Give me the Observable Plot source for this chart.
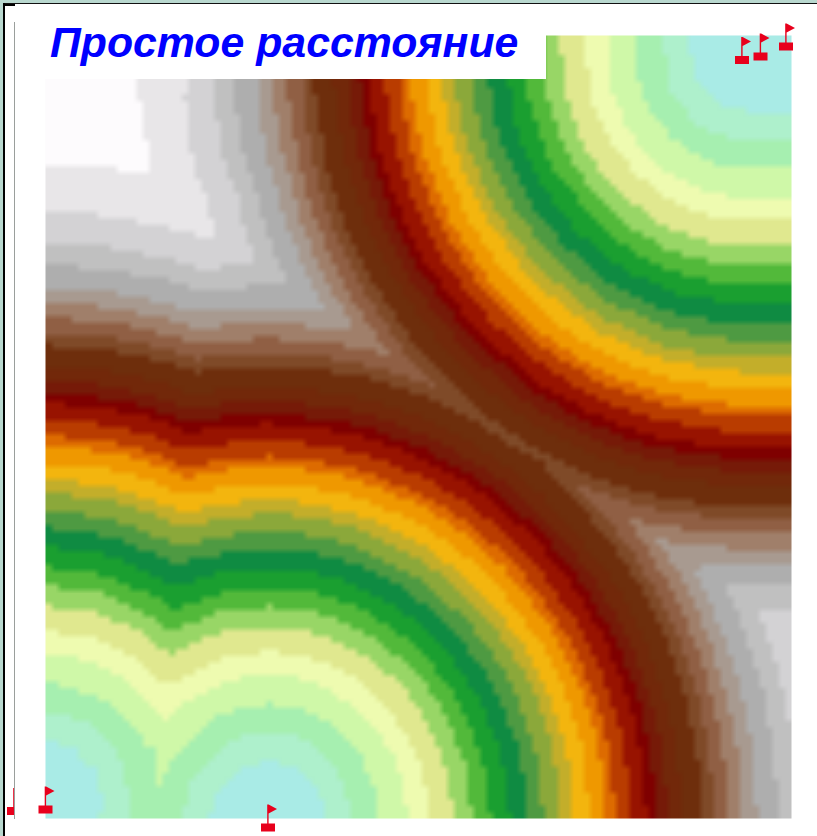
<!DOCTYPE html>
<html>
<head>
<meta charset="utf-8">
<style>
html,body{margin:0;padding:0;background:#fff;}
#page{position:relative;width:817px;height:836px;overflow:hidden;background:#fff;}
#chart{position:absolute;left:0;top:0;}
#chart svg{display:block;background:transparent;overflow:visible;}
#title{position:absolute;left:15px;top:5px;width:531px;height:74px;background:#fff;box-sizing:border-box;padding:12px 0 0 35px;
 font:italic bold 42.8px "Liberation Sans",Arial,sans-serif;color:#0000ff;white-space:nowrap;line-height:50px;}
.ln{position:absolute;}
</style>
<script src="https://cdn.jsdelivr.net/npm/d3@7"></script>
<script src="https://cdn.jsdelivr.net/npm/@observablehq/plot@0.6"></script>
</head>
<body>
<div id="page">
<div id="chart"></div>
<div id="title">Простое расстояние</div>
<div class="ln" style="left:0;top:0;width:817px;height:3px;background:#b9d8cf"></div>
<div class="ln" style="left:0;top:0;width:3px;height:836px;background:#b9d8cf"></div>
<div class="ln" style="left:3px;top:3px;width:814px;height:1px;background:#111"></div>
<div class="ln" style="left:3px;top:3px;width:2px;height:833px;background:#000"></div>
<div class="ln" style="left:5px;top:4px;width:10px;height:2px;background:#000"></div>
<div class="ln" style="left:15px;top:780px;width:20px;height:40px;background:#fff"></div>
<div class="ln" style="left:14px;top:22px;width:1px;height:797px;background:#9a9f9c"></div>
</div>
<script>
// Band limits and colours
const bandLimits = [58,86,112,140,162,186,205,223,242,260,276,293,306,322,338,348,363,379,388,400,414,434,446,460,474,489,510,530,560,605];
const bandColors = ["#a9ebe6","#aef0cc","#a6efb0","#cff8a8","#eefbb0","#e0e88f","#98d666","#52b93a","#1a9f30","#0f8b42","#4e9a42","#8ba83a","#c3ae2a","#f3b50e","#ef9800","#dd6b00","#b93c00","#981300","#7f0000","#761a08","#72280a","#6e2e0c","#7f4a28","#905f44","#a07f6a","#a89a90","#aeaeae","#c0c0c0","#d3d2d4","#e8e6e8","#fdfbfd"];

// Sampled surface values on a coarse grid, estimated from the band positions
const gridX = [45,107,169,231,293,355,417,479,541,603,665,727,791];
const gridY = [35,95,155,215,275,335,395,455,515,575,635,695,755,818];
const gridR = [
 [697,635,573,511,453,391,329,267,205.5,143.7,82.3,24,15],
 [671,636,575,513,455,393.3,331.8,270.4,209.4,149.3,91.6,47,43],
 [614,617,582,521,464,403.6,343.9,285.1,228.1,174.5,128.7,101.8,100],
 [557,560,571,538,479.5,421.4,364.6,309.8,258.3,212.4,176.8,158.2,157.2],
 [500,503.8,515,521,501,445.9,392.6,342.4,296.6,257.6,229.1,215.1,214.3],
 [443,447.2,460,464,464,471,426.5,380.7,340.1,306.8,283.2,272.1,271.4],
 [386,390.6,405,407,406.5,415,432.5,423,387.3,358.4,338.4,329.2,328.6],
 [329,334.4,351,350.5,349.6,359.5,379.5,408,437,411.4,394.1,386.2,385.7],
 [271,278.4,298,294,292.6,304.4,327.7,360.4,400,445,450,443.3,442.9],
 [214,223.1,248,237,235.7,250.3,278.2,316,360.5,409.6,462,500,500],
 [157,168.9,200,180.7,179,197.8,232.1,276.2,326.3,379.8,435.6,492.9,553],
 [100,117.7,155,125.3,122.8,148.8,192.1,243.6,299.1,356.8,415.7,475.4,537.6],
 [43,75.4,116.5,72.5,68.1,108.2,162.7,221.1,281.1,341.8,402.9,464.3,527.8],
 [17,64.3,98,36,26,88,150,212,274,336,398,460,524]
];

// Extra samples along the ridges where the bands turn a corner
const ridgeX = [155.4,158.6,162,165.5,168.9,172.4,175.8,179.2,182.6,186,189.5,192.9,196.4,199.7,203.1,205.7,180,157,130,100,240,280,320,360,400,440,480,520,560,600,640,680,720,760,775,791];
const ridgeY = [818,780,740,700,660,620,580,540,500,460,420,380,340,300,260,230,203,179.4,151.5,120.6,252.9,280.3,307.7,335.1,362.6,390,417.4,444.8,472.2,499.6,527,554.4,581.8,609.2,619.8,631.8];
const ridgeR = [111.7,115.2,130.2,153.6,182,213.6,247,281.6,317.1,353.2,389.7,426.5,463.5,500.7,538,566,584.4,601.5,623.4,649.3,541.6,515,491.6,471.9,456.4,445.5,439.5,438.7,443,452.4,466.5,484.9,507.2,532.8,542.8,554.1];

// Low points of the surface
const lowX = [45,267,746,787];
const lowY = [800,818,50,50];
const lowR = [0,3,0,0];

// Extra samples traced along curved bands: one level, then its positions
const arcLevel = [60,100,120,150,180,200,240,250,300,350,360,400,420,480,540];
const arcX = [
 [319,297,267,237,215,327,207,97,75,45,105,686,694,716,746],
 [132,95,145],
 [383,371,352,327,298,267,236,207,387,626,630,642,661,686,715,746],
 [151,120,84,45],
 [441,423,394,357,314,267,220,447,566,572,590,619,656,699,746],
 [145,97,45],
 [499,475,437,387,329,267,205,507,506,514,538,576,626,684,746],
 [170,110],
 [557,527,479,417,345,267,189,567,446,456,486,534,596,668,746,123,45],
 [136,45],
 [615,579,522,447,360,267,627,386,398,434,491,566,653,746],
 [149],
 [673,631,564,477,376,267,687,326,340,382,449,536,637,746],
 [731,683,267,747,268,284,332,746],
 [789,210,228]
];
const arcY = [
 [789.5,766.5,758,766.5,789.5,815,815,768.5,745.5,737,800,50,81.5,104.5,113],
 [747.5,709,800],
 [788.4,758,732,712,699.3,695,699.3,712,815,50,82.6,113,139,159,171.7,176],
 [688.7,664,648,642.5],
 [772,726.5,687.4,657.4,638.5,632,638.5,815,50,99,144.5,183.6,213.6,232.5,239],
 [618,597,590],
 [755.7,695,643,602.8,577.6,569,577.6,815,50,115.3,176,228,268.2,293.4,302],
 [573,546.5],
 [739.4,663.5,598.4,548.3,516.8,506,516.8,815,50,131.6,207.5,272.6,322.7,354.2,365,495.8,485],
 [445,432.5],
 [723,632,553.9,493.8,456,443,815,50,148,239,317.1,377.2,415,428],
 [394.4],
 [706.8,600.5,509.4,439.2,395.1,380,815,50,164.2,270.5,361.6,431.8,475.9,491],
 [690.4,569,317,815,50,180.6,302,554],
 [674,50,197]
];

// Flags
const flagX = [13.5,45,267.5,741.5,760,785.5];
const flagY = [810.5,809,827,59.5,56,46];

const samples = [];
gridY.forEach((y,j) => gridX.forEach((x,i) => samples.push({x,y,r:gridR[j][i]})));
ridgeX.forEach((x,i) => samples.push({x,y:ridgeY[i],r:ridgeR[i]}));
lowX.forEach((x,i) => samples.push({x,y:lowY[i],r:lowR[i]}));
arcLevel.forEach((r,k) => arcX[k].forEach((x,i) => samples.push({x,y:arcY[k][i],r})));
const flags = flagX.map((x,i) => ({x,y:flagY[i]}));

const flagSymbol = {draw(c){
  c.moveTo(-7,-4);c.lineTo(7,-4);c.lineTo(7,4);c.lineTo(-7,4);c.closePath();
  c.moveTo(-0.8,-4);c.lineTo(-0.8,-23);c.lineTo(0.6,-23);c.lineTo(9,-18.5);c.lineTo(0.6,-14);c.lineTo(0.6,-4);c.closePath();
}};

const plot = Plot.plot({
  width:817,height:836,
  marginLeft:45,marginRight:26,marginTop:35,marginBottom:18,
  x:{domain:[45,791],axis:null},
  y:{domain:[818,35],axis:null},
  color:{type:"threshold",domain:bandLimits,range:bandColors},
  marks:[
    Plot.raster(samples,{x:"x",y:"y",fill:"r",interpolate:"barycentric",pixelSize:6.5}),
    Plot.dot(flags,{x:"x",y:"y",symbol:flagSymbol,fill:"#e8001c",stroke:"none"})
  ]
});
document.getElementById("chart").append(plot);
</script>
</body>
</html>
